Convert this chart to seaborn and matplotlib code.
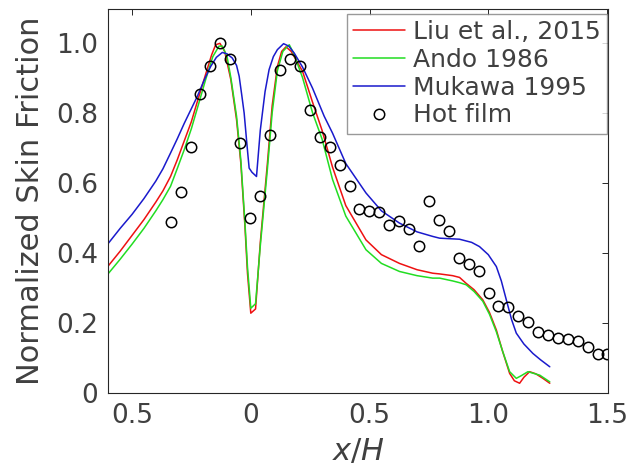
import numpy as np
import pandas as pd
import matplotlib
matplotlib.use('Agg')
import matplotlib.pyplot as plt
import seaborn as sns

# Liu et al., 2015 (rojo)
liu_x = [-0.605, -0.55, -0.50, -0.45, -0.40, -0.37, -0.338, -0.31, -0.28, -0.25, -0.225, -0.19, -0.165,
         -0.148, -0.13, -0.11, -0.084, -0.06, -0.042, -0.025, -0.014, 0.0, 0.02, 0.04, 0.07, 0.09, 0.112,
         0.13, 0.148, 0.17, 0.218, 0.26, 0.30, 0.344, 0.40, 0.485, 0.55, 0.626, 0.70, 0.766, 0.795, 0.85,
         0.879, 0.907, 0.94, 0.977, 1.005, 1.034, 1.06, 1.09, 1.11, 1.132, 1.15, 1.174, 1.20, 1.23, 1.259]
liu_y = [0.359, 0.405, 0.45, 0.495, 0.545, 0.577, 0.618, 0.665, 0.72, 0.775, 0.832, 0.91, 0.965,
         0.994, 0.998, 0.975, 0.894, 0.78, 0.656, 0.48, 0.342, 0.228, 0.24, 0.43, 0.656, 0.82, 0.932,
         0.975, 0.988, 0.975, 0.918, 0.83, 0.75, 0.645, 0.535, 0.437, 0.395, 0.37, 0.352, 0.342, 0.340, 0.335,
         0.330, 0.313, 0.295, 0.266, 0.23, 0.18, 0.12, 0.056, 0.035, 0.028, 0.045, 0.061, 0.055, 0.042, 0.028]

# Ando 1986 (verde)
ando_x = [-0.605, -0.55, -0.50, -0.45, -0.40, -0.37, -0.338, -0.31, -0.28, -0.25, -0.225, -0.19, -0.16,
          -0.134, -0.12, -0.10, -0.084, -0.06, -0.042, -0.025, -0.014, 0.0, 0.02, 0.04, 0.07, 0.09, 0.112,
          0.135, 0.162, 0.18, 0.218, 0.26, 0.30, 0.344, 0.40, 0.485, 0.55, 0.626, 0.70, 0.766, 0.795, 0.85,
          0.879, 0.907, 0.94, 0.977, 1.005, 1.034, 1.06, 1.09, 1.118, 1.14, 1.167, 1.217, 1.259]
ando_y = [0.337, 0.382, 0.425, 0.47, 0.52, 0.552, 0.59, 0.64, 0.695, 0.755, 0.813, 0.895, 0.96,
          0.99, 0.99, 0.96, 0.90, 0.79, 0.665, 0.49, 0.36, 0.242, 0.255, 0.42, 0.64, 0.80, 0.92,
          0.975, 0.994, 0.97, 0.90, 0.80, 0.725, 0.61, 0.505, 0.409, 0.37, 0.347, 0.335, 0.328, 0.328, 0.32,
          0.315, 0.309, 0.29, 0.262, 0.225, 0.175, 0.12, 0.061, 0.042, 0.05, 0.061, 0.051, 0.032]

# Mukawa 1995 (azul)
muk_x = [-0.605, -0.55, -0.50, -0.45, -0.40, -0.37, -0.338, -0.31, -0.28, -0.25, -0.225, -0.195, -0.169,
         -0.145, -0.12, -0.10, -0.078, -0.06, -0.049, -0.038, -0.028, -0.015, -0.007, 0.005, 0.024, 0.04,
         0.06, 0.077, 0.095, 0.112, 0.138, 0.16, 0.183, 0.218, 0.26, 0.309, 0.344, 0.40, 0.485, 0.55, 0.626,
         0.70, 0.766, 0.795, 0.879, 0.93, 0.963, 1.0, 1.034, 1.055, 1.076, 1.098, 1.118, 1.15, 1.188,
         1.22, 1.259]
muk_y = [0.423, 0.47, 0.51, 0.555, 0.605, 0.64, 0.685, 0.725, 0.77, 0.812, 0.847, 0.895, 0.932,
         0.958, 0.972, 0.968, 0.956, 0.935, 0.904, 0.85, 0.799, 0.70, 0.642, 0.63, 0.618, 0.75,
         0.86, 0.923, 0.96, 0.98, 0.997, 0.99, 0.97, 0.93, 0.87, 0.79, 0.742, 0.655, 0.571, 0.52, 0.485,
         0.46, 0.447, 0.442, 0.439, 0.43, 0.418, 0.395, 0.361, 0.32, 0.266, 0.21, 0.171, 0.14, 0.113,
         0.095, 0.075]

# Hot film (circulos)
hot_x = [-0.338, -0.294, -0.253, -0.213, -0.170, -0.128, -0.087, -0.045, -0.003, 0.039, 0.080,
         0.122, 0.165, 0.207, 0.249, 0.291, 0.332, 0.374, 0.416, 0.457, 0.498, 0.540, 0.582, 0.623,
         0.665, 0.707, 0.749, 0.792, 0.834, 0.876, 0.917, 0.959, 1.001, 1.042, 1.083, 1.125, 1.167,
         1.209, 1.250, 1.292, 1.335, 1.377, 1.419, 1.460, 1.500]
hot_y = [0.487, 0.575, 0.703, 0.852, 0.934, 0.998, 0.953, 0.715, 0.499, 0.563, 0.735,
         0.921, 0.953, 0.934, 0.808, 0.732, 0.703, 0.652, 0.592, 0.526, 0.520, 0.518, 0.479, 0.492,
         0.469, 0.420, 0.549, 0.493, 0.462, 0.386, 0.369, 0.349, 0.285, 0.248, 0.245, 0.221, 0.203,
         0.174, 0.166, 0.157, 0.153, 0.149, 0.131, 0.112, 0.112]

x_ticks = [-0.5, 0, 0.5, 1.0, 1.5]
x_ticklabels = ['0.5', '0', '0.5', '1.0', '1.5']
y_ticks = [0, 0.2, 0.4, 0.6, 0.8, 1.0]
y_ticklabels = ['0', '0.2', '0.4', '0.6', '0.8', '1.0']

sns.set_style('white')
plt.rcParams['font.family'] = ['DejaVu Sans']
txt = '#404040'

fig, ax = plt.subplots(figsize=(6.27, 4.73), dpi=100)
fig.subplots_adjust(left=0.172, right=0.970, bottom=0.169, top=0.981)

sns.lineplot(x=liu_x, y=liu_y, ax=ax, sort=False, color='#ee1111', linewidth=1.1, label='Liu et al., 2015')
sns.lineplot(x=ando_x, y=ando_y, ax=ax, sort=False, color='#22dd22', linewidth=1.1, label='Ando 1986')
sns.lineplot(x=muk_x, y=muk_y, ax=ax, sort=False, color='#1a1acc', linewidth=1.1, label='Mukawa 1995')
ax.plot(hot_x, hot_y, linestyle='none', marker='o', markersize=7.5, markerfacecolor='none',
        markeredgecolor='black', markeredgewidth=1.1, label='Hot film')

ax.set_xlim(-0.602, 1.505)
ax.set_ylim(0, 1.096)
ax.set_xticks(x_ticks)
ax.set_xticklabels(x_ticklabels)
ax.set_yticks(y_ticks)
ax.set_yticklabels(y_ticklabels)
ax.tick_params(direction='in', length=4, width=0.7, top=True, right=True,
               labelsize=19, colors='#262626', labelcolor=txt, pad=7)

for s in ax.spines.values():
    s.set_color('#262626')
    s.set_linewidth(0.8)

ax.set_xlabel('$x/H$', fontsize=22, color=txt, labelpad=6)
ax.set_ylabel('Normalized Skin Friction', fontsize=22, color=txt, labelpad=8)

leg = ax.legend(loc='upper left', bbox_to_anchor=(0.478, 0.987), borderaxespad=0, fontsize=18,
                frameon=True, fancybox=False, edgecolor='#808080', handlelength=2.08,
                handletextpad=0.3, labelspacing=0.15, borderpad=0.25)
leg.get_frame().set_linewidth(1.0)
for t in leg.get_texts():
    t.set_color(txt)

plt.savefig('out.png', dpi=100)
